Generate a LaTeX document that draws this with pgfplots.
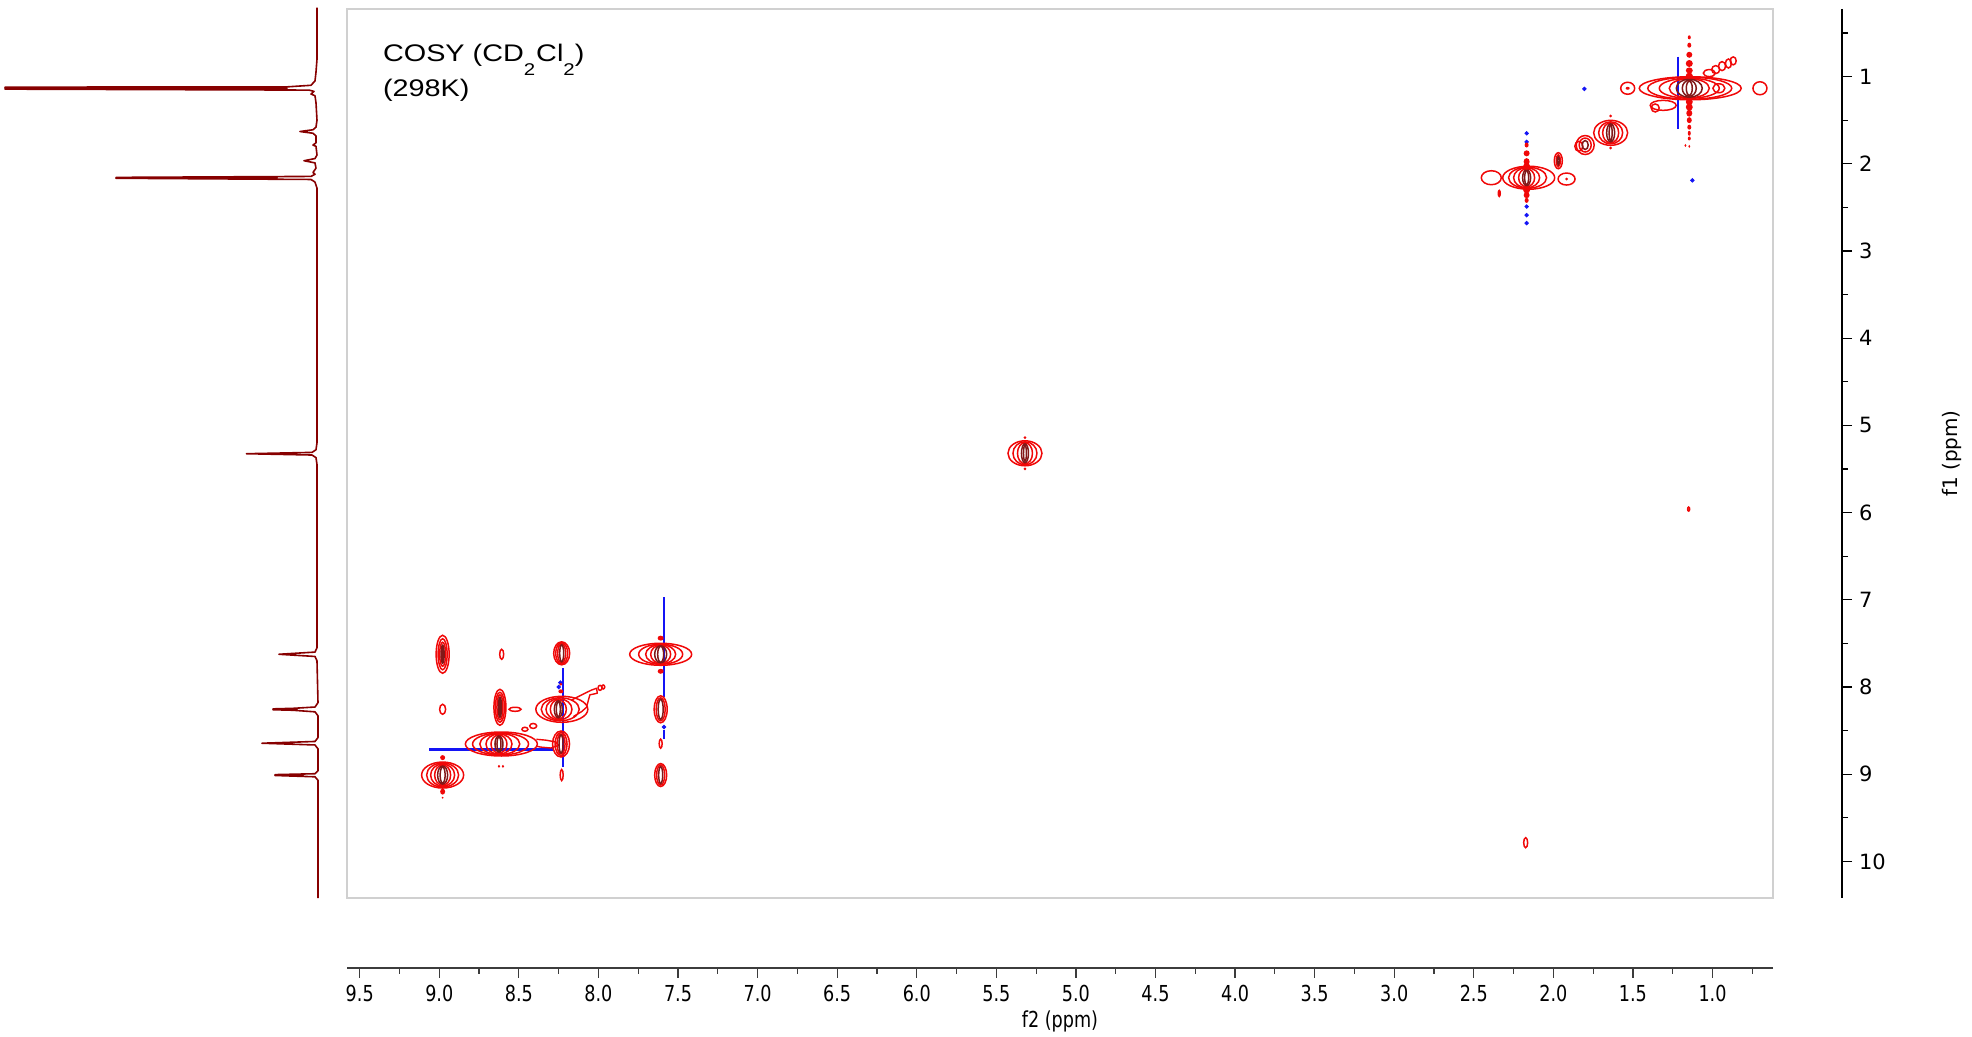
\documentclass[border=0pt]{standalone}
\usepackage{pgfplots}
\pgfplotsset{compat=1.18}
\usepackage{pgfplotstable}
\usepackage{fontspec}
\setmainfont{DejaVu Sans}
\newfontfamily\titlefont[FakeStretch=1.2]{Liberation Sans}
\newfontfamily\narrowfont[FakeStretch=0.8]{DejaVu Sans}

\definecolor{cred}{RGB}{240,8,8}
\definecolor{cdark}{RGB}{130,24,24}
\definecolor{cblue}{RGB}{20,20,245}
\definecolor{proj}{RGB}{135,0,0}
\definecolor{framegray}{RGB}{208,208,208}
\definecolor{axgray}{RGB}{60,60,60}

% contour level drawn as an ellipse; radii given in px (1 px = 0.5pt)
\pgfdeclareplotmark{ring}{%
  \pgfpathellipse{\pgfpointorigin}{\pgfpoint{\ringrx*0.5pt}{0pt}}{\pgfpoint{0pt}{\ringry*0.5pt}}%
  \pgfusepathqstroke}
\pgfdeclareplotmark{blob}{%
  \pgfpathellipse{\pgfpointorigin}{\pgfpoint{\ringrx*0.5pt}{0pt}}{\pgfpoint{0pt}{\ringry*0.5pt}}%
  \pgfusepathqfill}

\pgfplotsset{
  levelmarks/.style={
    only marks, scatter, mark=#1,
    visualization depends on={\thisrow{rx}\as\ringrx},
    visualization depends on={\thisrow{ry}\as\ringry},
  },
}

% 1D projection along f1: intensity (px) vs shift (ppm)
\pgfplotstableread{
i y
0 0.21
0 0.80
1 0.95
2 1.05
6 1.10
30 1.118
312 1.121
40 1.126
312 1.130
30 1.135
312 1.138
40 1.141
312 1.144
8 1.155
3 1.17
6 1.20
2 1.22
1 1.30
0 1.50
1 1.58
4 1.61
17 1.63
4 1.65
1 1.68
1 1.76
4 1.785
1 1.80
0 1.90
2 1.94
13 1.965
2 1.99
1 2.05
4 2.10
2 2.12
6 2.145
201 2.156
40 2.161
201 2.166
6 2.18
2 2.21
0 2.28
0 5.20
1 5.28
5 5.31
70.5 5.325
5 5.34
1 5.37
0 5.45
0 7.55
2 7.60
38 7.625
2 7.65
0 7.70
-1 8.18
2 8.23
24 8.245
44 8.251
20 8.256
44 8.261
24 8.267
2 8.285
-1 8.33
-1 8.58
2 8.625
55 8.645
2 8.665
-1 8.71
-1 8.96
2 8.995
42 9.005
14 9.010
42 9.015
2 9.03
-1 9.07
-1 10.42
}\projdata

% contour levels: centre (ppm) and half-axes (px)
\pgfplotstableread{
x y rx ry
8.979 7.625 6.5 19
8.979 7.625 4.5 15.5
8.979 7.625 3 12
8.608 7.625 2 5
8.231 7.614 8 11.5
8.231 7.614 6 10.5
8.231 7.614 4 9.5
8.979 8.256 3 5
8.619 8.233 6 18
8.619 8.233 4.5 15
8.619 8.233 3 12.5
8.524 8.256 6 2
8.230 8.256 26 13
8.240 8.256 19 11.5
8.248 8.256 13 10.5
8.252 8.256 8 9.5
8.610 8.654 36 12
8.615 8.654 28 11
8.620 8.654 20 10.5
8.625 8.654 13 10
8.625 8.654 8 9
8.235 8.654 8.5 13
8.235 8.654 6 11.5
8.235 8.654 4 10
8.979 9.010 21 13
8.979 9.010 16 12
8.979 9.010 12 11
8.979 9.010 8 10
7.609 7.625 31 11
7.609 7.625 22 10
7.609 7.625 15 9.5
7.609 7.625 10 9
7.609 8.256 6.5 13.5
7.609 8.256 4.5 11.5
7.609 8.650 1.5 4.5
7.609 9.010 6 11.5
7.609 9.010 4 10
8.231 9.010 1.5 5.5
8.462 8.485 3 2
8.410 8.447 3.5 2.5
7.990 8.010 2 2.5
7.970 8.000 1.5 2
5.320 5.320 17 12.5
5.320 5.320 12 11.5
5.320 5.320 7.5 10.5
2.174 9.786 2 5
1.150 5.960 1 2
1.140 1.134 51 11.5
1.143 1.134 42 11
1.146 1.134 30 10
1.146 1.134 20 9.5
1.533 1.134 7 6
0.702 1.134 7 6.5
0.960 1.134 6 4.5
1.310 1.330 13 5
1.360 1.360 4 4
1.020 0.960 6 3.5
0.980 0.920 4 4
0.940 0.880 3.5 4.5
0.900 0.850 3 4.5
0.870 0.820 3 4
1.640 1.645 17 12.5
1.640 1.645 12 11
1.640 1.645 8 10
1.800 1.785 9 9.5
1.800 1.785 6 7
1.840 1.800 4 5
1.969 1.965 4 8
1.969 1.965 2 6
2.155 2.160 26 11.5
2.162 2.160 19 10.5
2.168 2.160 13 10
2.168 2.160 8 9
2.390 2.160 10 7
1.917 2.175 8.5 6
2.340 2.340 1 3
}\ringsred

\pgfplotstableread{
x y rx ry
8.979 7.625 1.5 9
8.979 7.625 0.6 7
8.231 7.614 2 8.5
8.619 8.233 1.5 10
8.619 8.233 0.6 8
8.252 8.256 4 8.5
8.252 8.256 2 7.5
8.625 8.654 4 8
8.625 8.654 2 7
8.235 8.654 2 9
8.979 9.010 5 9
8.979 9.010 2.5 8
7.609 7.625 6 8.5
7.609 7.625 3 8
7.609 8.256 2.5 10
7.609 9.010 2 8.5
5.320 5.320 3.5 9.5
5.320 5.320 1.5 8
1.146 1.134 13 9
1.146 1.134 7 8
1.146 1.134 3 7
1.640 1.645 4 9
1.640 1.645 1.5 8
1.800 1.785 3 4.5
1.969 1.965 1 4
2.168 2.160 4 8
2.168 2.160 2 7
}\ringsdark

% t1-noise spots
\pgfplotstableread{
x y rx ry
1.146 0.55 1.5 2
1.146 0.64 2 2.5
1.146 0.75 3 3
1.146 0.85 3.5 3.5
1.146 0.93 3.5 3
1.146 0.99 3.5 3
1.146 1.29 3.5 3.5
1.146 1.35 3.5 3.5
1.146 1.42 3 3.5
1.146 1.50 2.5 3
1.146 1.58 2 2.5
1.146 1.65 1.5 2.5
1.146 1.71 1.5 2
1.146 1.80 1 1.5
1.170 1.79 1 1.5
2.168 1.785 2 2.5
2.168 1.880 3 3
2.168 1.976 3 3.5
2.168 2.030 3.5 3.5
2.168 2.300 3.5 3.5
2.168 2.360 3 3
2.168 2.420 2 2.5
8.979 8.810 2.5 2.5
8.979 9.200 2.5 3
8.979 9.270 1 1
7.609 7.440 3 2.5
7.609 7.820 3 2.5
8.625 8.910 1.2 1.5
8.600 8.910 1.2 1.5
8.236 8.050 2.5 2
8.236 7.970 1.5 1.5
5.320 5.140 1.5 1.5
5.320 5.500 1.5 1.5
1.640 1.452 1.5 1.5
1.640 1.820 1.5 1.5
1.917 2.175 1.5 1.5
1.533 1.134 2 1.5
}\spots

\pgfplotstableread{
x y
1.805 1.142
1.127 2.190
2.168 1.650
2.168 1.750
2.168 2.490
2.168 2.590
2.168 2.680
8.240 7.950
8.250 8.000
7.588 8.460
}\bluespots

\begin{document}
\begin{tikzpicture}
\path[use as bounding box] (0pt,0pt) rectangle (986pt,518.5pt);

% projection
\begin{axis}[
  at={(0pt,69.5pt)}, anchor=south west, scale only axis,
  width=168.5pt, height=444.5pt,
  xmin=-20, xmax=317, x dir=reverse,
  ymin=0.225, ymax=10.42, y dir=reverse,
  axis lines=none, clip=false]
\addplot[proj, line width=0.8pt, line join=round] table[x=i, y=y] {\projdata};
\end{axis}

% 2D map
\begin{axis}[
  at={(173.5pt,69.5pt)}, anchor=south west, scale only axis,
  width=713pt, height=444.5pt,
  xmin=0.62, xmax=9.58, x dir=reverse,
  ymin=0.225, ymax=10.42, y dir=reverse,
  axis line style={draw=framegray, line width=0.8pt},
  ticks=none, clip=true]
\addplot[cblue, line width=1.2pt] coordinates {(8.221,7.786) (8.221,8.914)};
\addplot[cblue, line width=1.2pt] coordinates {(7.588,6.97) (7.588,8.11)};
\addplot[cblue, line width=1.2pt] coordinates {(7.588,8.49) (7.588,8.60)};
\addplot[cblue, line width=1.2pt] coordinates {(9.063,8.715) (8.284,8.715)};
\addplot[cblue, line width=1.2pt] coordinates {(1.216,0.77) (1.216,1.605)};
\addplot[only marks, mark=*, mark size=0.9pt, cblue] table {\bluespots};
\addplot[levelmarks=ring, line width=0.75pt, scatter/use mapped color={draw=cred,fill=cred}] table[x=x, y=y] {\ringsred};
\addplot[levelmarks=ring, line width=0.75pt, scatter/use mapped color={draw=cdark,fill=cdark}] table[x=x, y=y] {\ringsdark};
\addplot[levelmarks=blob, scatter/use mapped color={draw=cred,fill=cred}] table[x=x, y=y] {\spots};
% tails of the cross peaks near 8.2/8.3 ppm
\addplot[cred, line width=0.7pt, line join=round] coordinates {(8.168,8.149) (8.085,8.072) (8.043,8.035) (8.012,8.015) (8.007,8.072) (8.054,8.090) (8.075,8.233) (8.106,8.283) (8.158,8.340)};
\addplot[cred, line width=0.7pt, line join=round] coordinates {(8.39,8.60) (8.33,8.61) (8.27,8.63) (8.25,8.67) (8.30,8.70) (8.36,8.69) (8.39,8.68)};
\node[anchor=base west, inner sep=0pt, font=\titlefont\fontsize{12}{14}\selectfont]
  at (axis description cs:0.02503,0.9407)
  {COSY (CD\raisebox{-6.8pt}{\fontsize{8.5}{9}\selectfont 2}\kern0.5pt Cl\raisebox{-6.8pt}{\fontsize{8.5}{9}\selectfont 2})};
\node[anchor=base west, inner sep=0pt, font=\titlefont\fontsize{12}{14}\selectfont]
  at (axis description cs:0.02503,0.9014) {(298K)};
\end{axis}

% f2 scale
\begin{axis}[
  at={(173.5pt,34.5pt)}, anchor=south west, scale only axis,
  width=713pt, height=20pt,
  xmin=0.62, xmax=9.58, x dir=reverse, ymin=0, ymax=1,
  axis x line*=bottom, axis y line=none,
  x axis line style={-, draw=axgray, line width=1pt},
  xtick={1.0,1.5,2.0,2.5,3.0,3.5,4.0,4.5,5.0,5.5,6.0,6.5,7.0,7.5,8.0,8.5,9.0,9.5},
  minor xtick={0.75,1.25,1.75,2.25,2.75,3.25,3.75,4.25,4.75,5.25,5.75,6.25,6.75,7.25,7.75,8.25,8.75,9.25},
  tick align=outside, major tick length=5pt, minor tick length=3pt,
  every tick/.style={draw=axgray, line width=0.6pt},
  xticklabel style={font=\narrowfont\fontsize{11}{13}\selectfont,
    /pgf/number format/fixed, /pgf/number format/fixed zerofill,
    /pgf/number format/precision=1, /pgf/number format/assume math mode=true},
  clip=false]
\addplot[draw=none] coordinates {(5,0.5)};
\node[font=\narrowfont\fontsize{11}{13}\selectfont] at ([yshift=-26.5pt]axis description cs:0.5,0) {f2 (ppm)};
\end{axis}

% f1 scale
\begin{axis}[
  at={(920pt,69.5pt)}, anchor=south west, scale only axis,
  width=1pt, height=444.5pt,
  xmin=0, xmax=1, ymin=0.225, ymax=10.42, y dir=reverse,
  axis y line*=right, axis x line=none,
  y axis line style={-, draw=black, line width=0.9pt},
  ytick={1,2,3,4,5,6,7,8,9,10},
  minor ytick={0.5,1.5,2.5,3.5,4.5,5.5,6.5,7.5,8.5,9.5},
  tick align=outside, major tick length=5pt, minor tick length=3pt,
  every tick/.style={draw=black, line width=0.6pt},
  yticklabel style={font=\fontsize{10.5}{12}\selectfont,
    /pgf/number format/assume math mode=true},
  clip=false]
\addplot[draw=none] coordinates {(0.5,5)};
\node[rotate=90, font=\fontsize{10}{12}\selectfont] at ([xshift=55pt]axis description cs:1,0.5) {f1 (ppm)};
\end{axis}
\end{tikzpicture}
\end{document}
